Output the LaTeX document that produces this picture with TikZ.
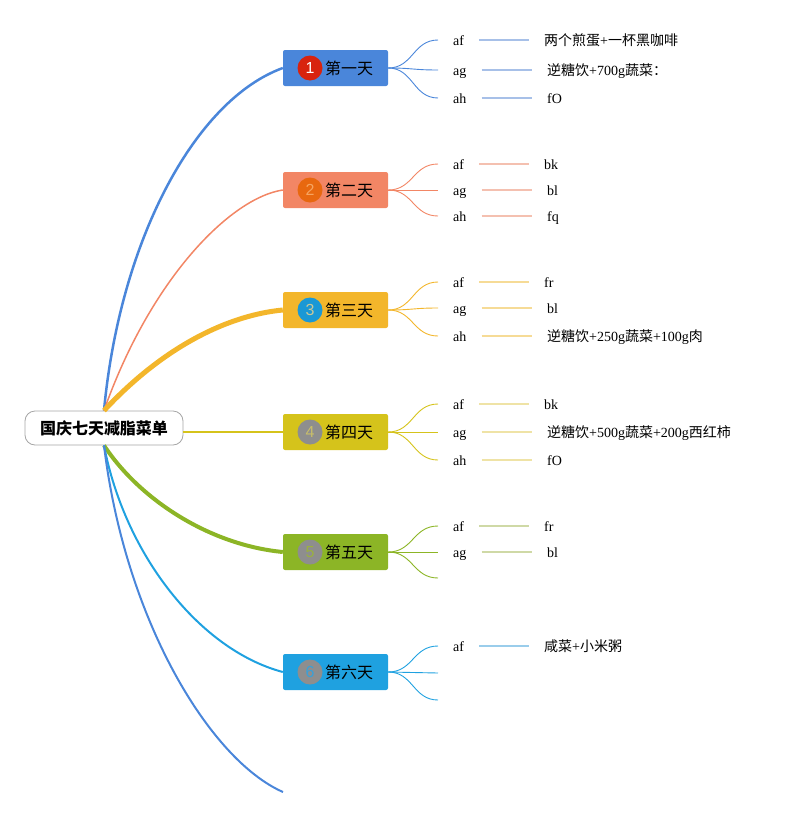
\documentclass[tikz,border=0pt]{standalone}
\usepackage{fontspec}
\setmainfont{Liberation Serif}
\newfontfamily\cjk{Noto Sans CJK SC}
\newfontfamily\digitfont{Liberation Sans}
\newcommand\zh[1]{{\cjk #1}}
\definecolor{c1}{HTML}{4A86DA}
\definecolor{c2}{HTML}{F28665}
\definecolor{c3}{HTML}{F3B62B}
\definecolor{c4}{HTML}{D5C31B}
\definecolor{c5}{HTML}{8CB526}
\definecolor{c6}{HTML}{1FA1E0}
\definecolor{k1}{HTML}{A7C0E8}
\definecolor{k2}{HTML}{F4C0B0}
\definecolor{k3}{HTML}{F6DB96}
\definecolor{k4}{HTML}{EFE3A6}
\definecolor{k5}{HTML}{CFD9A6}
\definecolor{k6}{HTML}{9ACDEB}
\definecolor{numgray}{HTML}{8E8E8E}
\definecolor{n1fill}{HTML}{D8230E}
\definecolor{n2fill}{HTML}{E8680F}
\definecolor{n3fill}{HTML}{1A98D5}
\definecolor{n2txt}{HTML}{F6A460}
\definecolor{n3txt}{HTML}{C8C89A}
\definecolor{n4txt}{HTML}{C8BE6A}
\definecolor{n5txt}{HTML}{9AB040}
\definecolor{n6txt}{HTML}{3AA0D8}
\begin{document}
\begin{tikzpicture}[x=1pt,y=-1pt,
  rootbox/.style={draw=black!35, line width=0.8pt, fill=white, rounded corners=10pt,
    minimum width=158pt, minimum height=34pt, inner sep=0,
    font=\cjk\bfseries\fontsize{16}{16}\selectfont},
  daybox/.style={rounded corners=2pt, minimum width=105pt, minimum height=36pt, inner sep=0},
  numdot/.style={circle, minimum size=25pt, inner sep=0, font=\digitfont\fontsize{16}{16}\selectfont},
  daytext/.style={anchor=west, inner sep=0, font=\cjk\fontsize{16}{16}\selectfont},
  lab/.style={anchor=west, inner sep=0, text height=13pt, text depth=2pt, font=\fontsize{14}{14}\selectfont},
  leaf/.style={line width=1.5pt, shorten <=15pt, shorten >=15pt},
  twig/.style={line width=0.9pt},
]
\useasboundingbox (0,0) rectangle (791,817);

% root
\node[rootbox] (root) at (104,428) {国庆七天减脂菜单};

% day boxes
\node[daybox, fill=c1] (d1) at (335.5,68) {};
\node[daybox, fill=c2] (d2) at (335.5,190) {};
\node[daybox, fill=c3] (d3) at (335.5,310) {};
\node[daybox, fill=c4] (d4) at (335.5,432) {};
\node[daybox, fill=c5] (d5) at (335.5,552) {};
\node[daybox, fill=c6] (d6) at (335.5,672) {};

\node[numdot, fill=n1fill, text=white] (n1) at (310,68) {1};
\node[numdot, fill=n2fill, text=n2txt] (n2) at (310,190) {2};
\node[numdot, fill=n3fill, text=n3txt] (n3) at (310,310) {3};
\node[numdot, fill=numgray, text=n4txt] (n4) at (310,432) {4};
\node[numdot, fill=numgray, text=n5txt] (n5) at (310,552) {5};
\node[numdot, fill=numgray, text=n6txt] (n6) at (310,672) {6};

\node[daytext] (t1) at (325,68) {第一天};
\node[daytext] (t2) at (325,190) {第二天};
\node[daytext] (t3) at (325,310) {第三天};
\node[daytext] (t4) at (325,432) {第四天};
\node[daytext] (t5) at (325,552) {第五天};
\node[daytext] (t6) at (325,672) {第六天};

% root connectors
\coordinate (tail) at (283,792);
\draw[c1, line width=2.5pt] (root.north) .. controls (120,240) and (195,100) .. (d1.west);
\draw[c2, line width=1.5pt] (root.north) .. controls (150,280) and (230,198) .. (d2.west);
\draw[c3, line width=5pt] (root.north) .. controls (165,345) and (230,315) .. (d3.west);
\draw[c4, line width=2pt] (root.east |- d4.west) -- (d4.west);
\draw[c5, line width=4pt] (root.south) .. controls (140,500) and (210,545) .. (d5.west);
\draw[c6, line width=2pt] (root.south) .. controls (125,555) and (200,650) .. (d6.west);
\draw[c1, line width=2pt] (root.south) .. controls (125,620) and (210,760) .. (tail);

% branch ends
\coordinate (e1a) at (438,40);  \coordinate (e1b) at (438,70);  \coordinate (e1c) at (438,98);
\coordinate (e2a) at (438,164); \coordinate (e2b) at (438,190); \coordinate (e2c) at (438,216);
\coordinate (e3a) at (438,282); \coordinate (e3b) at (438,308); \coordinate (e3c) at (438,336);
\coordinate (e4a) at (438,404); \coordinate (e4b) at (438,432); \coordinate (e4c) at (438,460);
\coordinate (e5a) at (438,526); \coordinate (e5b) at (438,552); \coordinate (e5c) at (438,578);
\coordinate (e6a) at (438,646); \coordinate (e6b) at (438,673); \coordinate (e6c) at (438,700);

\foreach \dd/\cc in {1/c1,2/c2,3/c3,4/c4,5/c5,6/c6}
  \foreach \rr in {a,b,c}
    \draw[twig, \cc] (d\dd.east) .. controls +(25,0) and +(-25,0) .. (e\dd\rr);

% day 1
\node[lab] (l1a) at (453,40) {af};
\node[lab] (l1b) at (453,70) {ag};
\node[lab] (l1c) at (453,98) {ah};
\node[lab] (v1a) at (544,40) {\zh{两个煎蛋}+\zh{一杯黑咖啡}};
\node[lab] (v1b) at (547,70) {\zh{逆糖饮}+700g\zh{蔬菜：}};
\node[lab] (v1c) at (547,98) {fO};
% day 2
\node[lab] (l2a) at (453,164) {af};
\node[lab] (l2b) at (453,190) {ag};
\node[lab] (l2c) at (453,216) {ah};
\node[lab] (v2a) at (544,164) {bk};
\node[lab] (v2b) at (547,190) {bl};
\node[lab] (v2c) at (547,216) {fq};
% day 3
\node[lab] (l3a) at (453,282) {af};
\node[lab] (l3b) at (453,308) {ag};
\node[lab] (l3c) at (453,336) {ah};
\node[lab] (v3a) at (544,282) {fr};
\node[lab] (v3b) at (547,308) {bl};
\node[lab] (v3c) at (547,336) {\zh{逆糖饮}+250g\zh{蔬菜}+100g\zh{肉}};
% day 4
\node[lab] (l4a) at (453,404) {af};
\node[lab] (l4b) at (453,432) {ag};
\node[lab] (l4c) at (453,460) {ah};
\node[lab] (v4a) at (544,404) {bk};
\node[lab] (v4b) at (547,432) {\zh{逆糖饮}+500g\zh{蔬菜}+200g\zh{西红柿}};
\node[lab] (v4c) at (547,460) {fO};
% day 5
\node[lab] (l5a) at (453,526) {af};
\node[lab] (l5b) at (453,552) {ag};
\node[lab] (v5a) at (544,526) {fr};
\node[lab] (v5b) at (547,552) {bl};
% day 6
\node[lab] (l6a) at (453,646) {af};
\node[lab] (v6a) at (544,646) {\zh{咸菜}+\zh{小米粥}};

% leaf lines
\foreach \dd/\rr/\cc in {1/a/k1,1/b/k1,1/c/k1,2/a/k2,2/b/k2,2/c/k2,3/a/k3,3/b/k3,3/c/k3,
                      4/a/k4,4/b/k4,4/c/k4,5/a/k5,5/b/k5,6/a/k6}
  \draw[leaf, \cc] (l\dd\rr.east) -- (v\dd\rr.west);
\end{tikzpicture}
\end{document}
